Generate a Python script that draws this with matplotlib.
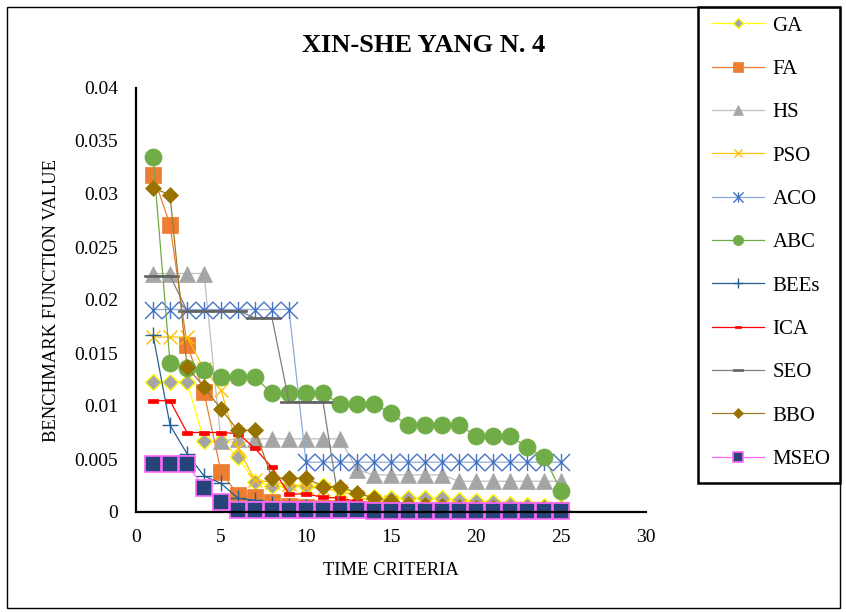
import matplotlib
matplotlib.use("Agg")
import matplotlib.pyplot as plt
from matplotlib.path import Path
from matplotlib.patches import Rectangle

plt.rcParams['font.family'] = ['Liberation Serif', 'DejaVu Serif']

# ---------------- data ----------------
iterations = list(range(1, 26))
series_names = ["GA", "FA", "HS", "PSO", "ACO", "ABC", "BEEs", "ICA", "SEO", "BBO", "MSEO"]

GA = [0.0123, 0.0123, 0.0123, 0.0067, 0.0067, 0.0052, 0.0028, 0.0025, 0.0025, 0.0025,
      0.0025, 0.0022, 0.0017, 0.0014, 0.0013, 0.0013, 0.0013, 0.0013, 0.0011, 0.0010,
      0.0009, 0.0008, 0.0007, 0.0006, 0.0005]
FA = [0.0318, 0.0271, 0.0158, 0.0113, 0.0038, 0.0016, 0.0014, 0.0009, 0.0006, 0.0005,
      0.0004, 0.0004, 0.0003, 0.0003, 0.0003, 0.0002, 0.0002, 0.0002, 0.0002, 0.0002,
      0.0002, 0.0002, 0.0002, 0.0002, 0.0002]
HS = [0.0225, 0.0225, 0.0225, 0.0225, 0.0067, 0.0069, 0.0069, 0.0069, 0.0069, 0.0069,
      0.0069, 0.0069, 0.0040, 0.0035, 0.0035, 0.0035, 0.0035, 0.0035, 0.0029, 0.0029,
      0.0029, 0.0029, 0.0029, 0.0029, 0.0029]
PSO = [0.0165, 0.0165, 0.0165, 0.0135, 0.0115, 0.0060, 0.0030, 0.0028, 0.0026, 0.0024,
       0.0022, 0.0020, 0.0014, 0.0010, 0.0009, 0.0008, 0.0007, 0.0006, 0.0006, 0.0005,
       0.0005, 0.0004, 0.0004, 0.0004, 0.0003]
ACO = [0.0191, 0.0191, 0.0191, 0.0191, 0.0191, 0.0191, 0.0191, 0.0191, 0.0191, 0.0047,
       0.0047, 0.0047, 0.0047, 0.0047, 0.0047, 0.0047, 0.0047, 0.0047, 0.0047, 0.0047,
       0.0047, 0.0047, 0.0047, 0.0047, 0.0047]
ABC = [0.0335, 0.0141, 0.0136, 0.0134, 0.0127, 0.0127, 0.0127, 0.0112, 0.0112, 0.0112,
       0.0112, 0.0102, 0.0102, 0.0102, 0.0093, 0.0082, 0.0082, 0.0082, 0.0082, 0.0072,
       0.0072, 0.0072, 0.0061, 0.0052, 0.0020]
BEEs = [0.0167, 0.0082, 0.0055, 0.0034, 0.0027, 0.0013, 0.0011, 0.0008, 0.0006, 0.0005,
        0.0004, 0.0004, 0.0003, 0.0003, 0.0003, 0.0002, 0.0002, 0.0002, 0.0002, 0.0002,
        0.0002, 0.0002, 0.0002, 0.0002, 0.0002]
ICA = [0.0105, 0.0105, 0.0075, 0.0075, 0.0075, 0.0074, 0.0060, 0.0042, 0.0017, 0.0017,
       0.0014, 0.0013, 0.0010, 0.0008, 0.0007, 0.0006, 0.0005, 0.0004, 0.0004, 0.0003,
       0.0003, 0.0003, 0.0002, 0.0002, 0.0002]
SEO = [0.0223, 0.0223, 0.0190, 0.0190, 0.0190, 0.0190, 0.0183, 0.0183, 0.0104, 0.0104,
       0.0104, 0.0002, 0.0002, 0.0001, 0.0001, 0.0001, 0.0001, 0.0001, 0.0001, 0.0001,
       0.0001, 0.0001, 0.0001, 0.0001, 0.0001]
BBO = [0.0306, 0.0299, 0.0137, 0.0118, 0.0097, 0.0077, 0.0077, 0.0032, 0.0032, 0.0032,
       0.0024, 0.0024, 0.0018, 0.0013, 0.0010, 0.0008, 0.0007, 0.0006, 0.0005, 0.0004,
       0.0004, 0.0003, 0.0003, 0.0003, 0.0002]
MSEO = [0.0045, 0.0045, 0.0045, 0.0023, 0.0009, 0.0002, 0.0002, 0.0002, 0.0002, 0.0002,
        0.0002, 0.0002, 0.0002, 0.00005, 0.00005, 0.00005, 0.00005, 0.00005, 0.00005, 0.00005,
        0.00005, 0.00005, 0.00005, 0.00005, 0.00005]

x_ticks = [0, 5, 10, 15, 20, 25, 30]
y_ticks = [0, 0.005, 0.01, 0.015, 0.02, 0.025, 0.03, 0.035, 0.04]
y_tick_labels = ["0", "0.005", "0.01", "0.015", "0.02", "0.025", "0.03", "0.035", "0.04"]

# ---------------- custom markers ----------------
asterisk = Path([(-1, -1), (1, 1), (-1, 1), (1, -1), (0, -1), (0, 1)],
                [Path.MOVETO, Path.LINETO, Path.MOVETO, Path.LINETO, Path.MOVETO, Path.LINETO])
dash_small = Path([(-1, -0.4), (1, -0.4), (1, 0.4), (-1, 0.4), (-1, -0.4)],
                  [Path.MOVETO, Path.LINETO, Path.LINETO, Path.LINETO, Path.CLOSEPOLY])
dash_wide = Path([(-1, -0.13), (1, -0.13), (1, 0.13), (-1, 0.13), (-1, -0.13)],
                 [Path.MOVETO, Path.LINETO, Path.LINETO, Path.LINETO, Path.CLOSEPOLY])

styles = {
    "GA":   dict(color="#FFFF00", marker="D", ms=8.6, mfc="#A5A5A5", mec="#FFFF00", mew=1.0),
    "FA":   dict(color="#ED7D31", marker="s", ms=12, mfc="#ED7D31", mec="#ED7D31", mew=0.5),
    "HS":   dict(color="#BFBFBF", marker="^", ms=12, mfc="#A5A5A5", mec="#A5A5A5", mew=0.5),
    "PSO":  dict(color="#FFC000", marker="x", ms=10, mfc="none", mec="#FFC000", mew=1.0),
    "ACO":  dict(color="#8FAADC", marker=asterisk, ms=12.3, mfc="none", mec="#4472C4", mew=1.0),
    "ABC":  dict(color="#70AD47", marker="o", ms=12.3, mfc="#70AD47", mec="#70AD47", mew=0.5),
    "BEEs": dict(color="#255E91", marker="+", ms=11, mfc="none", mec="#255E91", mew=1.0),
    "ICA":  dict(color="#FF0000", marker=dash_small, ms=6.5, mfc="#FF0000", mec="#FF0000", mew=0.5),
    "SEO":  dict(color="#7F7F7F", marker=dash_wide, ms=12.3, mfc="#636363", mec="#636363", mew=0.5),
    "BBO":  dict(color="#9E7B2C", marker="D", ms=8.6, mfc="#997300", mec="#997300", mew=0.5),
    "MSEO": dict(color="#FF66FF", marker="s", ms=11.5, mfc="#264478", mec="#FF66FF", mew=1.2),
}

data = {"GA": GA, "FA": FA, "HS": HS, "PSO": PSO, "ACO": ACO, "ABC": ABC,
        "BEEs": BEEs, "ICA": ICA, "SEO": SEO, "BBO": BBO, "MSEO": MSEO}

# ---------------- figure ----------------
W, H = 846, 612
fig = plt.figure(figsize=(W / 100, H / 100), dpi=100)

# chart area border
fig.patches.append(Rectangle((7 / W, 1 - 608 / H), (840 - 7) / W, (608 - 7) / H,
                             transform=fig.transFigure, fill=False, ec="black", lw=1.0))

ax = fig.add_axes([136 / W, 1 - 512 / H, 510 / W, 424 / H])
ax.set_facecolor("none")

handles = []
for name in series_names:
    st = styles[name]
    ln, = ax.plot(iterations, data[name], linestyle="-", linewidth=0.9, clip_on=False, label=name, **st)
    handles.append(ln)

ax.set_xlim(0, 30)
ax.set_ylim(0, 0.04)
ax.set_xticks(x_ticks)
ax.set_xticklabels([str(t) for t in x_ticks])
ax.set_yticks(y_ticks)
ax.set_yticklabels(y_tick_labels)
ax.tick_params(axis="both", length=0, labelsize=14)
ax.tick_params(axis="y", pad=13)
ax.tick_params(axis="x", pad=12)
for s in ["top", "right"]:
    ax.spines[s].set_visible(False)
for s in ["left", "bottom"]:
    ax.spines[s].set_linewidth(1.6)
    ax.spines[s].set_color("black")

ax.set_xlabel("TIME CRITERIA", fontsize=13.4, labelpad=12)
ax.set_ylabel("BENCHMARK FUNCTION VALUE", fontsize=13.4, labelpad=10)

fig.text(424 / W, 1 - 45 / H, "XIN-SHE YANG N. 4", fontsize=19, fontweight="bold",
         ha="center", va="center")

# legend box
fig.patches.append(Rectangle((698 / W, 1 - 483 / H), (840 - 698) / W, (483 - 7) / H,
                             transform=fig.transFigure, fill=False, ec="black", lw=1.8))
leg = fig.legend(handles=handles, loc="upper left", bbox_to_anchor=(712 / W, 1 - 16 / H),
                 frameon=False, fontsize=15, handlelength=2.5, handletextpad=0.4,
                 labelspacing=1.14, markerscale=0.6, borderpad=0, borderaxespad=0)

fig.savefig("out.png", dpi=100)
